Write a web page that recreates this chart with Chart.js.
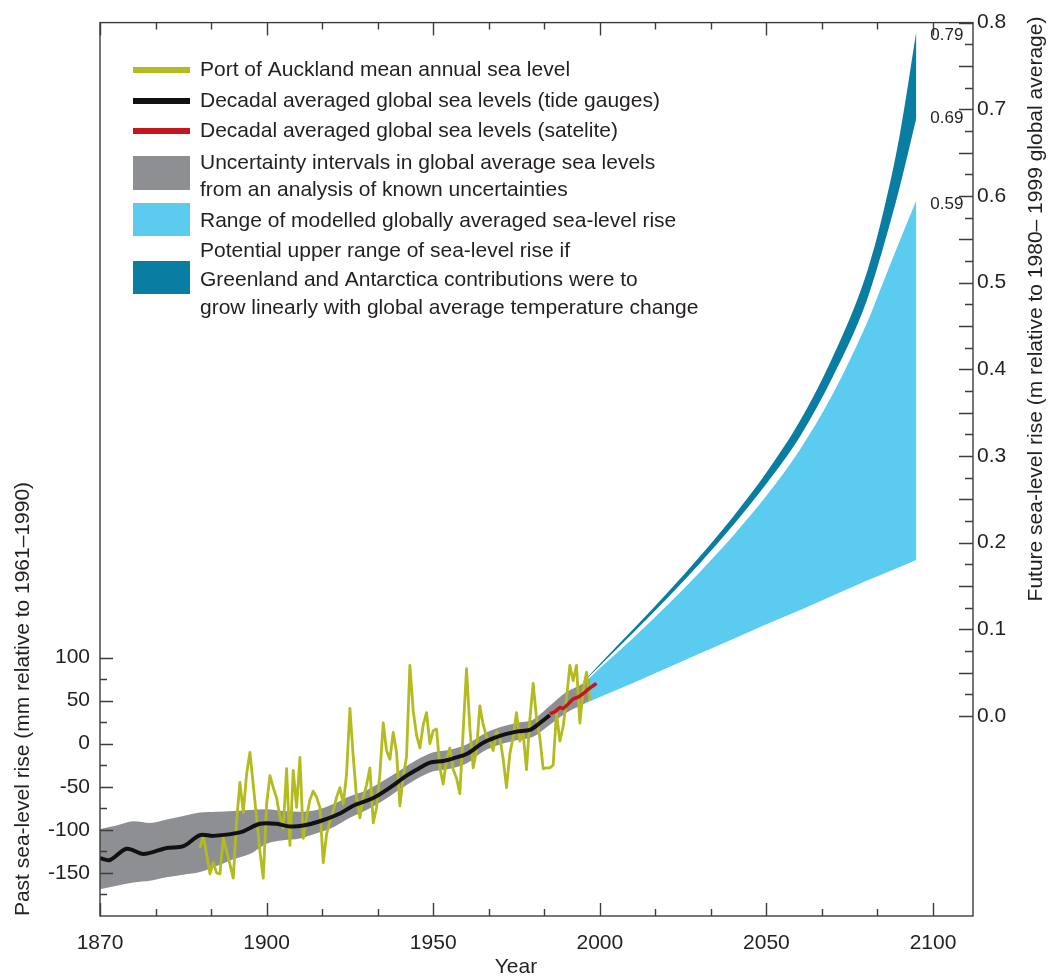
<!DOCTYPE html>
<html><head><meta charset="utf-8">
<script src="https://cdn.jsdelivr.net/npm/chart.js@4.4.1/dist/chart.umd.min.js"></script>
<style>html,body{margin:0;padding:0;background:#fff}canvas{display:block}</style>
</head><body>
<canvas id="c" width="1048" height="978"></canvas>
<script>
// ---------------- DATA ----------------
const xTickValues = [1850, 1900, 1950, 2000, 2050, 2100];
const xTickLabels = ['1870', '1900', '1950', '2000', '2050', '2100'];
const leftTickValues = [-150, -100, -50, 0, 50, 100];
const rightTickValues = [0.0, 0.1, 0.2, 0.3, 0.4, 0.5, 0.6, 0.7, 0.8];

// Port of Auckland mean annual sea level (mm), one value per year from 1880
const aucklandStartYear = 1880;
const aucklandValues = [
  -121, -107, -128, -151, -138, -150, -151, -109, -125, -140,
  -156, -90, -45, -80, -35, -10, -48, -86, -125, -156,
  -70, -37, -51, -63, -85, -98, -29, -118, -31, -74,
  -16, -110, -85, -65, -55, -62, -74, -138, -105, -90,
  -78, -62, -51, -70, -35, 41, -15, -63, -86, -62,
  -48, -28, -92, -74, -35, 24, -8, -18, 13, -10,
  -72, -39, -15, 91, 38, 10, -5, 22, 36, 0,
  15, 17, -28, -47, -18, -5, -30, -40, -58, 15,
  87, 18, -28, -8, 44, 22, 8, 3, -8, 14,
  7, -18, -51, -12, 8, 36, 3, 12, -30, 28,
  70, 30, 7, -29, -28, -28, -25, 36, 3, 20,
  52, 91, 73, 91, 24, 62, 83, 50
];

// Decadal averaged global sea level, tide gauges (mm)
const tideYears = [1850, 1853, 1858, 1863, 1870, 1875, 1880, 1884, 1892, 1898, 1903, 1907, 1911, 1916, 1922, 1926, 1932, 1937, 1942, 1946, 1949, 1953, 1956, 1960, 1965, 1970, 1975, 1979, 1981, 1985];
const tideValues = [-133, -135, -122, -128, -121, -119, -106, -107, -103, -93, -93, -96, -95, -90, -81, -72, -63, -51, -37, -28, -22, -20, -17, -12, 1, 9, 14, 16, 21, 33];

// Decadal averaged global sea level, satellite (mm)
const satYears = [1985, 1986.5, 1988, 1989, 1991, 1992, 1993.5, 1995, 1996.5, 1997.5, 1999];
const satValues = [35, 37, 42, 41, 48, 52, 54, 58, 63, 66, 70];

// Uncertainty band (mm)
const bandYears = [1850, 1855, 1860, 1865, 1870, 1875, 1880, 1885, 1890, 1895, 1900, 1905, 1910, 1915, 1920, 1925, 1930, 1935, 1940, 1945, 1950, 1955, 1960, 1965, 1970, 1975, 1980, 1985, 1990, 1995, 1997];
const bandUpper = [-99, -95, -90, -92, -88, -84, -80, -79, -78, -77, -76, -78, -79, -77, -70, -61, -54, -43, -31, -19, -10, -7, -1, 11, 19, 24, 28, 44, 60, 70, 76];
const bandLower = [-169, -165, -161, -159, -155, -152, -149, -142, -134, -128, -116, -112, -110, -104, -97, -86, -77, -66, -53, -41, -32, -29, -23, -9, -1, 4, 8, 22, 36, 46, 52];

// Future projections (m relative to 1980-1999)
const fanYears = [1994, 2000, 2010, 2020, 2030, 2040, 2050, 2060, 2070, 2080, 2085, 2090, 2095];
const upperRangeTop = [0.035, 0.06, 0.1, 0.141, 0.184, 0.23, 0.281, 0.34, 0.415, 0.51, 0.58, 0.67, 0.79];
const upperRangeBottom = [0.035, 0.058, 0.096, 0.135, 0.176, 0.22, 0.268, 0.322, 0.392, 0.478, 0.54, 0.61, 0.69];
const modelRangeTop = [0.033, 0.055, 0.09, 0.127, 0.166, 0.208, 0.254, 0.307, 0.372, 0.452, 0.5, 0.548, 0.595];
const modelRangeBottom = [0.012, 0.022, 0.038, 0.055, 0.072, 0.089, 0.106, 0.122, 0.139, 0.156, 0.164, 0.172, 0.18];
const endLabels = ['0.79', '0.69', '0.59'];
const endLabelValues = [0.785, 0.69, 0.59];

const legendLabels = [
  ['Port of Auckland mean annual sea level'],
  ['Decadal averaged global sea levels (tide gauges)'],
  ['Decadal averaged global sea levels (satelite)'],
  ['Uncertainty intervals in global average sea levels', 'from an analysis of known uncertainties'],
  ['Range of modelled globally averaged sea-level rise'],
  ['Potential upper range of sea-level rise if', 'Greenland and Antarctica contributions were to', 'grow linearly with global average temperature change']
];
const leftTitle = 'Past sea-level rise (mm relative to 1961\u20131990)';
const rightTitle = 'Future sea-level rise (m relative to 1980\u2013 1999 global average)';
const xTitle = 'Year';

// ---------------- STYLE ----------------
const FONT = "'Liberation Sans', Arial, Helvetica, sans-serif";
const TEXT = '#231f20';
const AXIS = '#3c3c3c';
const YELLOW = '#b3bb1e';
const BLACK = '#111111';
const RED = '#c4161c';
const GREY = '#8e8f93';
const LIGHTBLUE = '#5bcbf0';
const DARKBLUE = '#0a7ea2';

const pts = (xs, ys) => xs.map((x, i) => ({x: x, y: ys[i]}));

const datasets = [
  {data: pts(bandYears, bandLower), yAxisID: 'y', borderWidth: 0, pointRadius: 0, fill: false, cubicInterpolationMode: 'monotone', order: 5},
  {data: pts(bandYears, bandUpper), yAxisID: 'y', borderWidth: 0, pointRadius: 0, fill: '-1', backgroundColor: GREY, cubicInterpolationMode: 'monotone', order: 5},
  {data: pts(fanYears, modelRangeBottom), yAxisID: 'y2', borderWidth: 0, pointRadius: 0, fill: false, order: 6},
  {data: pts(fanYears, modelRangeTop), yAxisID: 'y2', borderWidth: 0, pointRadius: 0, fill: '-1', backgroundColor: LIGHTBLUE, cubicInterpolationMode: 'monotone', order: 6},
  {data: pts(fanYears, upperRangeBottom), yAxisID: 'y2', borderWidth: 0, pointRadius: 0, fill: false, cubicInterpolationMode: 'monotone', order: 6},
  {data: pts(fanYears, upperRangeTop), yAxisID: 'y2', borderWidth: 0, pointRadius: 0, fill: '-1', backgroundColor: DARKBLUE, cubicInterpolationMode: 'monotone', order: 6},
  {data: aucklandValues.map((v, i) => ({x: aucklandStartYear + i, y: v})), yAxisID: 'y', borderColor: YELLOW, borderWidth: 2.8, pointRadius: 0, tension: 0, fill: false, order: 3, borderJoinStyle: 'round'},
  {data: pts(tideYears, tideValues), yAxisID: 'y', borderColor: BLACK, borderWidth: 4, pointRadius: 0, tension: 0.3, fill: false, order: 2},
  {data: pts(satYears, satValues), yAxisID: 'y', borderColor: RED, borderWidth: 3.5, pointRadius: 0, tension: 0.3, fill: false, order: 1}
];

const framePlugin = {
  id: 'frame',
  afterDatasetsDraw(chart) {
    const {ctx, chartArea: a, scales: {x, y, y2}} = chart;
    ctx.save();
    ctx.strokeStyle = AXIS;
    ctx.lineWidth = 1.4;
    ctx.strokeRect(a.left, a.top, a.right - a.left, a.bottom - a.top);
    ctx.beginPath();
    xTickValues.forEach(v => {
      const px = Math.round(x.getPixelForValue(v)) + 0.5;
      ctx.moveTo(px, a.bottom); ctx.lineTo(px, a.bottom - 13);
      ctx.moveTo(px, a.top); ctx.lineTo(px, a.top + 13);
    });
    for (let i = 0; i < xTickValues.length - 1; i++) {
      for (let k = 1; k < 3; k++) {
        const v = xTickValues[i] + (xTickValues[i + 1] - xTickValues[i]) * k / 3;
        const px = Math.round(x.getPixelForValue(v)) + 0.5;
        ctx.moveTo(px, a.bottom); ctx.lineTo(px, a.bottom - 7);
        ctx.moveTo(px, a.top); ctx.lineTo(px, a.top + 7);
      }
    }
    for (let v = -175; v <= 100; v += 25) {
      const py = Math.round(y.getPixelForValue(v)) + 0.5;
      const len = (v % 50 === 0) ? 13 : 7;
      ctx.moveTo(a.left, py); ctx.lineTo(a.left + len, py);
    }
    for (let i = 0; i <= 32; i++) {
      const py = Math.round(y2.getPixelForValue(i * 0.025)) + 0.5;
      const len = (i % 2 === 0) ? 14 : 8;
      ctx.moveTo(a.right, py); ctx.lineTo(a.right - len, py);
    }
    ctx.stroke();

    ctx.fillStyle = TEXT;
    ctx.font = '17px ' + FONT;
    ctx.textAlign = 'left';
    ctx.textBaseline = 'middle';
    const ex = x.getPixelForValue(2095) + 14;
    endLabels.forEach((t, i) => ctx.fillText(t, ex, y2.getPixelForValue(endLabelValues[i])));
    ctx.restore();
  },
  afterDraw(chart) {
    const {ctx} = chart;
    ctx.save();
    ctx.fillStyle = TEXT;
    ctx.font = '21px ' + FONT;
    ctx.textBaseline = 'middle';
    ctx.textAlign = 'center';
    ctx.save(); ctx.translate(23, 699); ctx.rotate(-Math.PI / 2); ctx.fillText(leftTitle, 0, 0); ctx.restore();
    ctx.save(); ctx.translate(1036, 309); ctx.rotate(-Math.PI / 2); ctx.fillText(rightTitle, 0, 0); ctx.restore();
    ctx.fillText(xTitle, 516, 967);

    const sx = 133, sw = 57, tx = 200;
    const lineRows = [70, 101, 131];
    const lineColors = [YELLOW, BLACK, RED];
    ctx.textAlign = 'left';
    for (let i = 0; i < 3; i++) {
      ctx.fillStyle = lineColors[i];
      ctx.fillRect(sx, lineRows[i] - 3, sw, 6);
      ctx.fillStyle = TEXT;
      ctx.fillText(legendLabels[i][0], tx, lineRows[i]);
    }
    const boxes = [
      {color: GREY, top: 156, bottom: 190, rows: [163, 190]},
      {color: LIGHTBLUE, top: 203, bottom: 236, rows: [221]},
      {color: DARKBLUE, top: 261, bottom: 294, rows: [251, 280, 308]}
    ];
    boxes.forEach((b, j) => {
      ctx.fillStyle = b.color;
      ctx.fillRect(sx, b.top, sw, b.bottom - b.top);
      ctx.fillStyle = TEXT;
      legendLabels[3 + j].forEach((t, k) => ctx.fillText(t, tx, b.rows[k]));
    });
    ctx.restore();
  }
};

new Chart(document.getElementById('c'), {
  type: 'line',
  data: {datasets: datasets},
  options: {
    responsive: false,
    animation: false,
    events: [],
    layout: {padding: {top: 18, left: 0, right: 0, bottom: 0}},
    plugins: {legend: {display: false}, tooltip: {enabled: false}, title: {display: false}},
    scales: {
      x: {
        type: 'linear', min: 1850, max: 2112,
        grid: {display: false, drawTicks: false}, border: {display: false},
        ticks: {autoSkip: false, maxRotation: 0, padding: 15, color: TEXT, font: {family: FONT, size: 21},
          callback: v => { const i = xTickValues.indexOf(v); return i >= 0 ? xTickLabels[i] : ''; }},
        afterBuildTicks: s => { s.ticks = xTickValues.map(v => ({value: v})); },
        afterFit: s => { s.height = 62; }
      },
      y: {
        type: 'linear', position: 'left', min: -200, max: 837,
        grid: {display: false, drawTicks: false}, border: {display: false},
        ticks: {padding: 10, color: TEXT, font: {family: FONT, size: 21}, callback: v => String(v)},
        afterBuildTicks: s => { s.ticks = leftTickValues.map(v => ({value: v})); },
        afterFit: s => { s.width = 100; }
      },
      y2: {
        type: 'linear', position: 'right', min: -0.2307, max: 0.8,
        grid: {display: false, drawTicks: false}, border: {display: false},
        ticks: {padding: 4, color: TEXT, font: {family: FONT, size: 21}, callback: v => Number(v).toFixed(1)},
        afterBuildTicks: s => { s.ticks = rightTickValues.map(v => ({value: v})); },
        afterFit: s => { s.width = 75; }
      }
    }
  },
  plugins: [framePlugin]
});
</script>
</body></html>
